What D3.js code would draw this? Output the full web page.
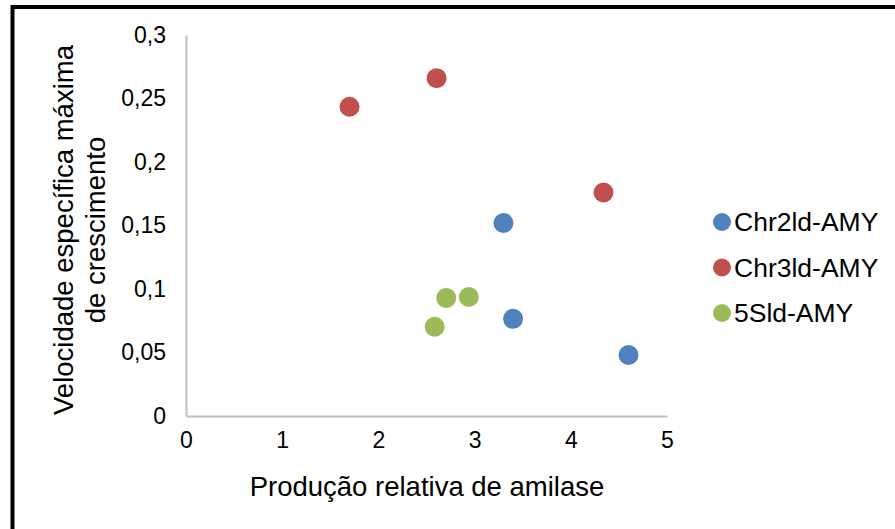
<!DOCTYPE html>
<html><head><meta charset="utf-8">
<script src="https://cdn.jsdelivr.net/npm/d3@7"></script>
<style>body{margin:0;background:#fff}svg{display:block}text{font-family:"Liberation Sans",Arial,sans-serif;fill:#000}</style>
</head><body>
<svg id="c" width="895" height="529"></svg>
<script>
const seriesNames = ["Chr2ld-AMY", "Chr3ld-AMY", "5Sld-AMY"];
const seriesColors = ["#4f81bd", "#c0504d", "#9bbb59"];
const chr2X = [3.30, 3.40, 4.60];
const chr2Y = [0.152, 0.0765, 0.048];
const chr3X = [1.70, 2.605, 4.34];
const chr3Y = [0.2435, 0.266, 0.176];
const s5X = [2.585, 2.705, 2.94];
const s5Y = [0.0703, 0.093, 0.0937];
const xTicks = [0, 1, 2, 3, 4, 5];
const yTicks = [0, 0.05, 0.1, 0.15, 0.2, 0.25, 0.3];
const xTitle = "Produção relativa de amilase";
const yTitle = ["Velocidade específica máxima", "de crescimento"];

const series = [[chr2X, chr2Y], [chr3X, chr3Y], [s5X, s5Y]];
const svg = d3.select("#c");
const x = d3.scaleLinear().domain([0, 5]).range([186, 667]);
const y = d3.scaleLinear().domain([0, 0.3]).range([416, 35]);
const fmt = v => String(v).replace(".", ",");

// outer frame
svg.append("rect").attr("x", 12.5).attr("y", 7).attr("width", 1000).attr("height", 1000)
  .attr("fill", "none").attr("stroke", "#000").attr("stroke-width", 4);

// y axis
const ya = svg.append("g").attr("transform", "translate(186,0)")
  .call(d3.axisLeft(y).tickValues(yTicks).tickSize(0).tickPadding(20).tickFormat(fmt));
ya.select(".domain").attr("stroke", "#bfbfbf").attr("stroke-width", 2);
ya.selectAll("text").style("font-size", "23px").style("font-family", "Liberation Sans, Arial, sans-serif");

// x axis
const xa = svg.append("g").attr("transform", "translate(0,416)")
  .call(d3.axisBottom(x).tickValues(xTicks).tickSize(0).tickPadding(16).tickFormat(fmt));
xa.select(".domain").attr("stroke", "#bfbfbf").attr("stroke-width", 2);
xa.selectAll("text").style("font-size", "23px").style("font-family", "Liberation Sans, Arial, sans-serif");

// titles
svg.append("text").attr("x", 427).attr("y", 496).attr("text-anchor", "middle")
  .style("font-size", "27.5px").text(xTitle);
const yt = svg.append("text").attr("transform", "translate(73,230) rotate(-90)")
  .attr("text-anchor", "middle").style("font-size", "27.5px");
yt.append("tspan").attr("x", 0).attr("dy", 0).text(yTitle[0]);
yt.append("tspan").attr("x", 0).attr("dy", 32).text(yTitle[1]);

// points
series.forEach((s, i) => {
  svg.append("g").selectAll("circle").data(s[0].map((v, j) => [v, s[1][j]])).join("circle")
    .attr("cx", d => x(d[0])).attr("cy", d => y(d[1])).attr("r", 10)
    .attr("fill", seriesColors[i]);
});

// legend
const leg = svg.append("g");
const legY = d3.scalePoint().domain(seriesNames).range([222, 313]);
seriesNames.forEach((n, i) => {
  leg.append("circle").attr("cx", 722).attr("cy", legY(n)).attr("r", 9).attr("fill", seriesColors[i]);
  leg.append("text").attr("x", 734).attr("y", legY(n)).attr("dy", "0.35em")
    .style("font-size", "26.5px").text(n);
});
</script>
</body></html>
